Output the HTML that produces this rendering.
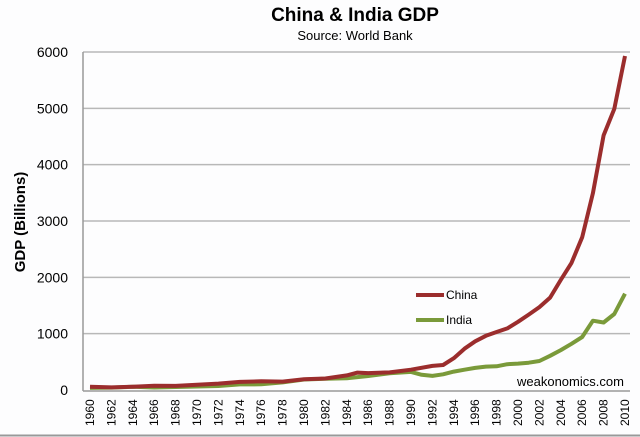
<!DOCTYPE html><html><head><style>body{margin:0;background:#fff}svg{display:block;font-family:"Liberation Sans",sans-serif}</style></head><body>
<svg id="s" width="640" height="437" xmlns="http://www.w3.org/2000/svg">
<rect width="640" height="437" fill="#fdfdfe"/>
<line x1="0" y1="435.5" x2="640" y2="435.5" stroke="#999" stroke-width="2"/>
<text x="355" y="21" font-size="19" font-weight="bold" text-anchor="middle">China &amp; India GDP</text>
<text x="355" y="40" font-size="13" text-anchor="middle">Source: World Bank</text>
<g id="grid" stroke="#b8b8b8" stroke-width="1.5"></g>
<line x1="83" y1="52" x2="83" y2="391" stroke="#999" stroke-width="1.5"/>
<line x1="83" y1="391" x2="630" y2="391" stroke="#999" stroke-width="1.5"/>
<g id="yl" font-size="14" text-anchor="end"></g>
<g id="xl" font-size="12"></g>
<text transform="translate(25,222) rotate(-90)" font-size="15" font-weight="bold" text-anchor="middle">GDP (Billions)</text>
<polyline id="in" fill="none" stroke="#7a9a3a" stroke-width="4" stroke-linejoin="round"/>
<polyline id="ch" fill="none" stroke="#9b2d2d" stroke-width="4" stroke-linejoin="round"/>
<line x1="416" y1="295" x2="444" y2="295" stroke="#9b2d2d" stroke-width="4"/>
<text x="446" y="299" font-size="12">China</text>
<line x1="416" y1="320" x2="444" y2="320" stroke="#7a9a3a" stroke-width="4"/>
<text x="446" y="324" font-size="12">India</text>
<text x="517" y="386" font-size="13">weakonomics.com</text>
</svg>
<script>
var Y=v=>390-v*0.05633,X=y=>90+(y-1960)*10.7;
var g='';var yl='';
for(var i=1;i<=6;i++){g+='<line x1="83" x2="630" y1="'+Y(i*1000)+'" y2="'+Y(i*1000)+'"/>';}
for(var i=0;i<=6;i++){yl+='<text x="68" y="'+(Y(i*1000)+5)+'">'+(i*1000)+'</text>';}
document.getElementById('grid').innerHTML=g;document.getElementById('yl').innerHTML=yl;
var xl='';for(var y=1960;y<=2010;y+=2){var x=X(y)+4;xl+='<text transform="translate('+x+',426) rotate(-90)">'+y+'</text>';}
document.getElementById('xl').innerHTML=xl;
var c={1960:59,1962:47,1964:59,1966:76,1968:72,1970:92,1972:114,1974:144,1976:154,1978:149,1980:191,1982:205,1984:259,1985:309,1986:300,1988:312,1990:361,1992:427,1993:444,1994:564,1995:734,1996:864,1997:962,1998:1029,1999:1094,2000:1211,2001:1339,2002:1471,2003:1640,2004:1955,2005:2256,2006:2712,2007:3494,2008:4520,2009:4990,2010:5930};
var n={1960:37,1962:42,1964:56,1966:45,1968:53,1970:62,1972:71,1974:99,1976:102,1978:135,1980:186,1982:200,1984:208,1986:248,1988:296,1990:321,1991:270,1992:250,1993:279,1994:327,1995:360,1996:393,1997:415,1998:421,1999:458,2000:468,2001:485,2002:515,2003:607,2004:709,2005:820,2006:940,2007:1230,2008:1199,2009:1350,2010:1710};
function pts(d){return Object.keys(d).map(k=>X(+k).toFixed(1)+','+Y(d[k]).toFixed(1)).join(' ');}
document.getElementById('ch').setAttribute('points',pts(c));
document.getElementById('in').setAttribute('points',pts(n));
</script>
</body></html>
